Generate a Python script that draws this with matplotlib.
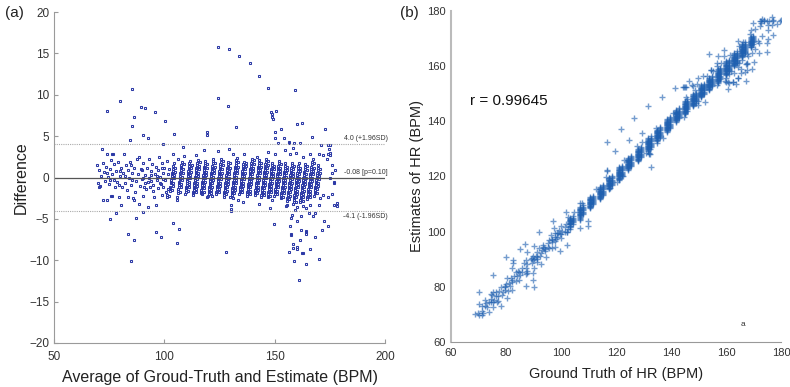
import numpy as np
import matplotlib
matplotlib.use("Agg")
import matplotlib.pyplot as plt

plt.rcParams["font.family"] = ["Liberation Sans", "DejaVu Sans"]

# dense part: ground-truth HR of each column and the differences (estimate - truth) in it
column_gt = [103.3, 107.0, 110.5, 114.0, 117.5, 121.0, 124.5, 128.0, 131.5, 135.0, 138.5,
             142.0, 145.0, 148.0, 151.0, 154.0, 157.0, 160.0, 163.0, 166.0, 169.0]
column_diffs = [
    [-2.2, -1.6, -1.3, -1.1, -0.7, -0.5, -0.3, 0.0, 0.2, 0.4, 0.6, 0.8, 1.0, 1.4, 1.7],
    [-2.4, -1.9, -1.6, -1.4, -1.1, -0.9, -0.7, -0.5, -0.2, 0.0, 0.2, 0.5, 0.7, 0.9, 1.1,
     1.3, 1.5, 1.9],
    [-2.0, -1.7, -1.5, -1.3, -1.1, -0.9, -0.6, -0.4, -0.2, 0.0, 0.2, 0.4, 0.6, 0.8, 1.0,
     1.2, 1.4, 1.7, 2.0],
    [-2.1, -1.9, -1.7, -1.5, -1.3, -1.1, -0.9, -0.7, -0.5, -0.3, -0.1, 0.1, 0.3, 0.5, 0.7,
     0.9, 1.1, 1.3, 1.5, 1.8, 2.1],
    [-1.9, -1.7, -1.5, -1.3, -1.1, -0.9, -0.7, -0.5, -0.3, -0.1, 0.1, 0.3, 0.5, 0.7, 0.9,
     1.1, 1.3, 1.5, 1.8, 2.0],
    [-2.2, -2.0, -1.8, -1.6, -1.4, -1.2, -1.0, -0.8, -0.6, -0.4, -0.2, 0.0, 0.2, 0.4, 0.6,
     0.8, 1.0, 1.2, 1.4, 1.7, 2.0, 2.3],
    [-2.0, -1.8, -1.6, -1.4, -1.2, -1.0, -0.8, -0.6, -0.4, -0.2, 0.0, 0.2, 0.4, 0.6, 0.8,
     1.0, 1.2, 1.4, 1.6, 1.9, 2.2],
    [-2.3, -2.1, -1.9, -1.7, -1.5, -1.3, -1.1, -0.9, -0.7, -0.5, -0.3, -0.1, 0.1, 0.3, 0.5,
     0.7, 0.9, 1.1, 1.3, 1.6, 1.9],
    [-2.1, -1.9, -1.7, -1.5, -1.3, -1.1, -0.9, -0.7, -0.5, -0.3, -0.1, 0.1, 0.3, 0.5, 0.7,
     0.9, 1.1, 1.3, 1.5, 1.8, 2.1, 2.4],
    [-2.0, -1.8, -1.6, -1.4, -1.2, -1.0, -0.8, -0.6, -0.4, -0.2, 0.0, 0.2, 0.4, 0.6, 0.8,
     1.0, 1.2, 1.4, 1.6, 1.9],
    [-2.2, -2.0, -1.8, -1.6, -1.4, -1.2, -1.0, -0.8, -0.6, -0.4, -0.2, 0.0, 0.2, 0.4, 0.6,
     0.8, 1.0, 1.2, 1.4, 1.7, 2.0, 2.3],
    [-2.1, -1.9, -1.7, -1.5, -1.3, -1.1, -0.9, -0.7, -0.5, -0.3, -0.1, 0.1, 0.3, 0.5, 0.7,
     0.9, 1.1, 1.3, 1.5, 1.8, 2.1],
    [-2.3, -2.1, -1.9, -1.7, -1.5, -1.3, -1.1, -0.9, -0.7, -0.5, -0.3, -0.1, 0.1, 0.3, 0.5,
     0.7, 0.9, 1.1, 1.3, 1.6, 1.9, 2.2],
    [-2.4, -2.2, -2.0, -1.8, -1.6, -1.4, -1.2, -1.0, -0.8, -0.6, -0.4, -0.2, 0.0, 0.2, 0.4,
     0.6, 0.8, 1.0, 1.2, 1.5, 1.8],
    [-2.2, -2.0, -1.8, -1.6, -1.4, -1.2, -1.0, -0.8, -0.6, -0.4, -0.2, 0.0, 0.2, 0.4, 0.6,
     0.8, 1.0, 1.2, 1.4, 1.7, 2.0],
    [-2.5, -2.3, -2.1, -1.9, -1.7, -1.5, -1.3, -1.1, -0.9, -0.7, -0.5, -0.3, -0.1, 0.1, 0.3,
     0.5, 0.7, 0.9, 1.1, 1.4, 1.7],
    [-2.8, -2.5, -2.3, -2.1, -1.9, -1.7, -1.5, -1.3, -1.1, -0.9, -0.7, -0.5, -0.3, -0.1, 0.1,
     0.3, 0.5, 0.7, 0.9, 1.2, 1.5, 1.8],
    [-3.2, -2.9, -2.7, -2.5, -2.3, -2.1, -1.9, -1.7, -1.5, -1.3, -1.1, -0.9, -0.7, -0.5,
     -0.3, -0.1, 0.1, 0.3, 0.5, 0.8, 1.1, 1.4, 1.7],
    [-3.0, -2.7, -2.5, -2.3, -2.1, -1.9, -1.7, -1.5, -1.3, -1.1, -0.9, -0.7, -0.5, -0.3,
     -0.1, 0.1, 0.3, 0.5, 0.7, 1.0, 1.3, 1.6],
    [-2.6, -2.4, -2.2, -2.0, -1.8, -1.6, -1.4, -1.2, -1.0, -0.8, -0.6, -0.4, -0.2, 0.0, 0.2,
     0.4, 0.6, 0.8, 1.0, 1.3, 1.6, 1.9],
    [-2.2, -1.9, -1.7, -1.5, -1.3, -1.1, -0.9, -0.7, -0.5, -0.3, -0.1, 0.1, 0.3, 0.6, 0.9,
     1.2, 1.5],
]

# second, slightly higher ground-truth value inside each stripe
column_gt_b = [104.4, 108.1, 111.6, 115.1, 118.6, 122.1, 125.6, 129.1, 132.6, 136.1, 139.6,
               143.0, 146.0, 149.0, 152.0, 155.0, 158.0, 161.0, 164.0, 167.0, 170.0]
column_diffs_b = [
    [-1.5, -1.0, -0.6, -0.1, 0.3, 0.7, 1.2],
    [-1.8, -1.2, -0.8, -0.3, 0.1, 0.6, 1.0, 1.6],
    [-1.6, -1.2, -0.8, -0.5, -0.1, 0.3, 0.7, 1.1, 1.5],
    [-1.8, -1.4, -1.0, -0.6, -0.2, 0.2, 0.6, 1.0, 1.4, 1.9],
    [-1.7, -1.3, -0.9, -0.5, -0.1, 0.3, 0.7, 1.1, 1.6],
    [-1.9, -1.5, -1.1, -0.7, -0.3, 0.1, 0.5, 0.9, 1.3, 1.8],
    [-1.8, -1.4, -1.0, -0.6, -0.2, 0.2, 0.6, 1.0, 1.5, 2.0],
    [-2.0, -1.6, -1.2, -0.8, -0.4, 0.0, 0.4, 0.8, 1.2, 1.7],
    [-1.9, -1.5, -1.1, -0.7, -0.3, 0.1, 0.5, 0.9, 1.3, 1.9],
    [-1.8, -1.4, -1.0, -0.6, -0.2, 0.2, 0.6, 1.0, 1.4, 1.8],
    [-2.0, -1.6, -1.2, -0.8, -0.4, 0.0, 0.4, 0.8, 1.2, 1.6, 2.1],
    [-1.9, -1.5, -1.1, -0.7, -0.3, 0.1, 0.5, 0.9, 1.3, 1.8],
    [-2.1, -1.7, -1.3, -0.9, -0.5, -0.1, 0.3, 0.7, 1.1, 1.5, 2.0],
    [-2.2, -1.8, -1.4, -1.0, -0.6, -0.2, 0.2, 0.6, 1.0, 1.4],
    [-2.0, -1.6, -1.2, -0.8, -0.4, 0.0, 0.4, 0.8, 1.2, 1.6],
    [-2.3, -1.9, -1.5, -1.1, -0.7, -0.3, 0.1, 0.5, 0.9, 1.3],
    [-2.6, -2.2, -1.8, -1.4, -1.0, -0.6, -0.2, 0.2, 0.6, 1.0, 1.4],
    [-2.9, -2.4, -2.0, -1.6, -1.2, -0.8, -0.4, 0.0, 0.4, 0.8, 1.2],
    [-2.8, -2.4, -2.0, -1.6, -1.2, -0.8, -0.4, 0.0, 0.4, 0.9, 1.4],
    [-2.4, -2.0, -1.6, -1.2, -0.8, -0.4, 0.0, 0.4, 0.8, 1.2, 1.7],
    [-1.9, -1.4, -1.0, -0.6, -0.2, 0.2, 0.6, 1.0],
]

# sparse low-HR region (average, difference)
sparse_avg = [69.5, 70.2, 70.0, 70.5, 71.0, 71.3, 71.9, 72.0, 72.3, 72.8, 73.0, 73.5, 73.9, 73.9,
              74.5, 74.8, 75.2, 75.7, 76.0, 76.1, 76.1, 76.4, 76.6, 77.0, 77.3, 77.8, 78.0, 78.5,
              79.0, 79.6, 79.8, 80.4, 80.5, 81.0, 81.3, 81.9, 82.0, 82.5, 83.0, 83.4, 83.7, 84.0,
              84.5, 84.8, 85.2, 85.9, 86.2, 86.4, 86.7, 87.0, 87.5, 88.0, 88.4, 88.5, 89.0, 89.5,
              89.7, 90.2, 90.5, 91.0, 91.2, 91.8, 92.0, 92.4, 92.7, 93.0, 93.2, 93.5, 94.0, 94.4,
              94.8, 95.0, 95.4, 95.6, 96.1, 96.2, 96.5, 97.0, 97.3, 97.6, 98.0, 98.3, 98.8, 98.8,
              99.2, 99.6, 100.0, 100.3, 100.6, 101.1, 101.1, 101.5, 101.8, 102.2,
              90.0, 90.3, 90.6, 93.8, 94.1, 97.8, 96.8, 99.4, 99.0, 85.5, 85.0, 82.2, 79.3, 80.0,
              75.5, 74.2]
sparse_diff = [1.5, 0.9, -0.6, -1.2, -1.0, 0.2, 3.4, 1.8, -2.7, 0.7, -0.4, 1.3, 2.9, -2.7,
               0.1, -0.8, 1.0, -2.2, 2.1, 2.9, -2.2, 0.4, 2.9, -0.3, 1.6, -1.2, 0.8, -0.5,
               1.9, -2.3, 0.2, -3.3, 1.1, -1.2, 0.5, 2.9, -0.7, 1.5, -1.5, 0.9, -2.3, 0.0,
               1.9, -0.9, 0.6, -2.5, -2.7, 1.2, -1.7, -0.4, 2.2, 0.4, -3.2, 2.5, -1.0, 1.0,
               -0.2, -2.2, 1.7, -0.7, 0.3, -1.4, 1.2, -0.5, -3.5, 2.3, 0.0, -1.1, 0.8, 1.6,
               -0.9, -1.6, -2.4, 0.4, -3.3, 1.3, -0.3, 0.9, -1.3, 2.5, 0.1, -0.8, -2.1, 1.7,
               0.6, -1.1, 1.2, -0.3, -1.7, -2.3, 2.0, 0.4, -1.4, 1.0,
               0.9, -0.1, -1.1, -0.4, 0.3, -0.6, 0.2, -0.2, 1.1, -0.3, 1.5, 0.2, -0.9, 0.8,
               -0.3, 0.6]

# points around the edges of the dense band
edge_avg = [104.0, 106.0, 109.0, 114.2, 118.0, 124.5, 129.4, 131.0, 136.1, 141.8, 147.1, 150.0,
            154.7, 158.4, 156.9, 159.6, 162.7, 166.0, 167.5, 170.2, 172.0, 173.6, 174.3, 175.0,
            151.6, 156.6, 158.9, 161.5, 171.0, 174.3, 175.0, 174.6, 175.2,
            175.8, 177.3, 175.1, 176.9, 176.0, 177.0, 178.1, 178.4, 174.3, 175.8, 172.0, 170.5,
            105.6, 101.1, 116.9, 119.2, 121.4, 129.7, 131.2, 133.5, 135.5, 143.0, 147.9, 130.2,
            130.2, 148.6, 155.4, 160.0, 163.0, 166.0, 170.2, 155.0, 177.0, 164.0, 159.0]
edge_diff = [2.9, 2.3, 2.6, 2.7, 3.3, 3.2, 3.5, 2.8, 2.8, 2.5, 3.1, 2.9,
             3.3, 3.6, 2.9, 3.0, 2.5, 2.9, 2.3, 2.9, 2.7, 2.2, 2.9, 2.7,
             4.2, 4.2, 4.2, 4.2, 3.9, 3.9, 3.9, 3.4, 3.0,
             1.5, 0.9, -0.1, -0.7, 0.5, -0.5, -3.1, -3.4, -2.3, -2.0, -2.1, -2.5,
             -2.7, -2.1, -2.0, -2.3, -2.2, -2.3, -2.5, -2.7, -3.0, -3.2, -3.7, -3.3,
             -3.8, -2.7, -3.3, -3.5, -3.4, -3.3, -3.3, -3.4, -3.3, -3.7, -3.9]

# isolated outliers
outlier_avg = [74.2, 79.8, 85.5, 86.1, 85.5, 84.6, 89.4, 91.2, 90.2, 92.5, 95.9, 100.4, 104.5,
               99.5, 108.6, 119.5, 119.5, 124.5, 124.5, 129.5, 129.0, 134.0, 132.6, 138.7,
               142.7, 146.8, 148.4, 148.6, 148.8, 149.0, 150.7, 152.9, 150.3, 150.3, 154.2,
               159.1, 160.3, 162.4, 156.6, 166.8, 172.8,
               75.5, 78.2, 83.7, 86.1, 85.0, 87.3, 90.5, 96.4, 98.6, 104.1, 106.8, 105.9,
               128.1, 130.2, 149.7, 157.8, 157.2, 157.1, 157.5, 157.5, 158.4, 158.4, 160.0,
               160.1, 160.3, 156.3, 158.7, 160.9, 161.5, 162.1, 162.5, 163.0, 164.0, 164.3,
               164.3, 164.3, 165.7, 165.8, 167.2, 168.3, 168.4, 170.1, 171.6, 172.5, 174.2,
               162.1]
outlier_diff = [8.0, 9.3, 10.7, 7.3, 6.2, 4.5, 8.5, 8.4, 5.2, 4.8, 7.9, 6.8, 5.3,
                4.0, 3.7, 5.5, 5.2, 15.8, 9.6, 15.6, 8.7, 14.7, 6.1, 13.8,
                12.3, 10.8, 7.9, 7.7, 7.3, 7.1, 8.1, 5.9, 5.5, 4.8, 4.8,
                10.6, 6.5, 6.6, 4.3, 4.9, 5.9,
                -5.0, -4.3, -6.8, -7.6, -10.1, -4.9, -4.2, -6.6, -7.2, -5.5, -6.2, -7.9,
                -9.0, -4.0, -5.6, -4.5, -4.9, -5.8, -6.8, -7.0, -8.0, -8.5, -8.4,
                -8.6, -5.3, -9.0, -10.1, -12.4, -7.6, -6.4, -9.1, -9.1, -6.6, -6.5,
                -6.8, -10.5, -4.3, -8.6, -4.7, -4.3, -7.2, -9.8, -6.3, -5.3, -5.9,
                -4.7]

mean_diff = -0.08
upper_loa = 4.0
lower_loa = -4.1
r_value = 0.99645

# build truth / estimate pairs
col_gt = []
col_df = []
for g, ds in zip(column_gt + column_gt_b, column_diffs + column_diffs_b):
    for d in ds:
        col_gt.append(g)
        col_df.append(d)
col_gt = np.array(col_gt)
col_df = np.array(col_df)

other_avg = np.array(sparse_avg + edge_avg + outlier_avg)
other_df = np.array(sparse_diff + edge_diff + outlier_diff)

diff = np.concatenate([col_df, other_df])
truth = np.concatenate([col_gt, other_avg - other_df / 2])
estimate = truth + diff
average = (truth + estimate) / 2

fig = plt.figure(figsize=(7.9, 3.87), dpi=100)
ax1 = fig.add_axes([0.0684, 0.1137, 0.419, 0.855])
ax2 = fig.add_axes([0.5709, 0.1163, 0.4177, 0.8553])

# (a) Bland-Altman
ax1.plot(average, diff, "s", ms=2.1, mfc="none", mec="#2c39a6", mew=0.75)
ax1.axhline(mean_diff, color="#555555", lw=0.9)
ax1.axhline(upper_loa, color="#aaaaaa", lw=0.8, ls=(0, (1, 1)))
ax1.axhline(lower_loa, color="#aaaaaa", lw=0.8, ls=(0, (1, 1)))
ax1.text(201.3, upper_loa + 0.25, "4.0 (+1.96SD)", fontsize=5, ha="right", va="bottom",
         color="#333333", clip_on=False)
ax1.text(201.3, mean_diff + 0.25, "-0.08 [p=0.10]", fontsize=5, ha="right", va="bottom",
         color="#333333", clip_on=False)
ax1.text(201.3, lower_loa - 0.2, "-4.1 (-1.96SD)", fontsize=5, ha="right", va="top",
         color="#333333", clip_on=False)
ax1.set_xlim(50, 200)
ax1.set_ylim(-20, 20)
ax1.set_xticks([50, 100, 150, 200])
ax1.set_yticks([-20, -15, -10, -5, 0, 5, 10, 15, 20])
ax1.set_xlabel("Average of Groud-Truth and Estimate (BPM)", fontsize=11.5, color="#222222",
               labelpad=5)
ax1.set_ylabel("Difference", fontsize=11.5, color="#222222", labelpad=0)
for s in ["top", "right"]:
    ax1.spines[s].set_visible(False)
for s in ["left", "bottom"]:
    ax1.spines[s].set_color("#9a9a9a")
ax1.tick_params(direction="in", length=3, color="#9a9a9a", labelsize=8.5,
                labelcolor="#333333")
ax1.tick_params(axis="x", pad=6)

# (b) truth vs estimate
ax2.plot(truth, estimate, "+", ms=5, mew=1.0, color="#1f60b0", alpha=0.62)
ax2.text(67, 147.4, "r = %.5f" % r_value, fontsize=11, va="center", color="#111111")
ax2.text(166, 66.2, "a", fontsize=6, ha="center", va="center", color="#333333")
ax2.set_xlim(60, 180)
ax2.set_ylim(60, 180)
ax2.set_xticks(range(60, 181, 20))
ax2.set_yticks(range(60, 181, 20))
ax2.set_xlabel("Ground Truth of HR (BPM)", fontsize=10.5, color="#222222", labelpad=7)
ax2.set_ylabel("Estimates of HR (BPM)", fontsize=10.5, color="#222222", labelpad=2)
for s in ["top", "right"]:
    ax2.spines[s].set_visible(False)
ax2.spines["left"].set_color("#bbbbbb")
ax2.spines["left"].set_linewidth(1.5)
ax2.spines["bottom"].set_color("#999999")
ax2.tick_params(length=0, labelsize=8, labelcolor="#333333", pad=4)

fig.text(0.006, 0.955, "(a)", fontsize=11, color="#222222")
fig.text(0.506, 0.955, "(b)", fontsize=11, color="#222222")

fig.savefig("out.png", dpi=100)
